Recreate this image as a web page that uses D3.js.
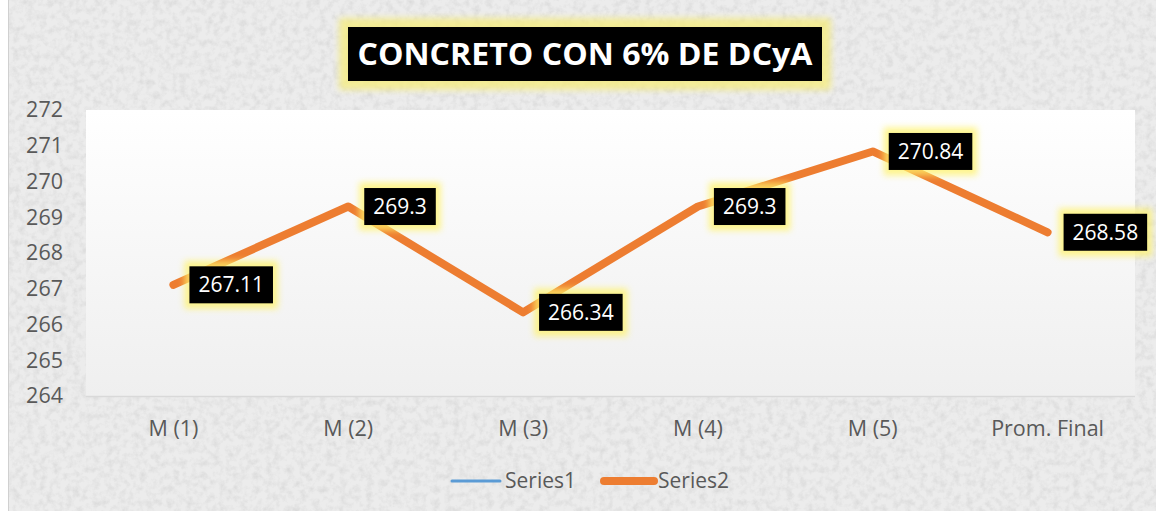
<!DOCTYPE html>
<meta charset="utf-8">
<script src="https://d3js.org/d3.v7.min.js"></script>
<style>
  body { margin: 0; }
  text { font-family: "Open Sans", "DejaVu Sans", sans-serif; }
</style>
<div id="chart"></div>
<script>

// data
var categories = ["M (1)", "M (2)", "M (3)", "M (4)", "M (5)", "Prom. Final"];
var series2 = [267.11, 269.3, 266.34, 269.3, 270.84, 268.58];
var series2Labels = ["267.11", "269.3", "266.34", "269.3", "270.84", "268.58"];
var yTicks = [264, 265, 266, 267, 268, 269, 270, 271, 272];
var legendNames = ["Series1", "Series2"];

var W = 1156, H = 511;
var margin = {top: 110, right: 21, bottom: 115, left: 86},
    width = W - margin.left - margin.right,
    height = H - margin.top - margin.bottom;

var svg = d3.select("#chart").append("svg")
    .attr("width", W)
    .attr("height", H);

var defs = svg.append("defs");

// granite-like background
var f = defs.append("filter").attr("id", "granite")
    .attr("x", 0).attr("y", 0).attr("width", "100%").attr("height", "100%");
f.append("feTurbulence").attr("type", "fractalNoise")
    .attr("baseFrequency", 0.15).attr("numOctaves", 4).attr("seed", 7);
f.append("feColorMatrix").attr("type", "matrix")
    .attr("values", "0 0 0 0 0.6  0 0 0 0 0.6  0 0 0 0 0.6  0 0 0 -1.0 0.6");
f.append("feComposite").attr("in2", "SourceGraphic").attr("operator", "in");

var glow = defs.append("filter").attr("id", "glow")
    .attr("x", "-30%").attr("y", "-60%").attr("width", "160%").attr("height", "220%");
glow.append("feGaussianBlur").attr("stdDeviation", 3);

var grad = defs.append("linearGradient").attr("id", "plotbg")
    .attr("x1", 0).attr("y1", 0).attr("x2", 0).attr("y2", 1);
grad.append("stop").attr("offset", "0%").attr("stop-color", "#ffffff");
grad.append("stop").attr("offset", "100%").attr("stop-color", "#efefef");

svg.append("rect").attr("x", 0).attr("y", 0).attr("width", W).attr("height", H)
    .attr("fill", "#ffffff");
svg.append("rect").attr("x", 8).attr("y", 0).attr("width", W - 8).attr("height", H)
    .attr("fill", "#ececec");
svg.append("rect").attr("x", 8).attr("y", 0).attr("width", W - 8).attr("height", H)
    .attr("fill", "#ececec").attr("filter", "url(#granite)");
svg.append("line").attr("x1", 8.5).attr("x2", 8.5).attr("y1", 0).attr("y2", H)
    .attr("stroke", "#d0d0d0");

var g = svg.append("g")
    .attr("transform", "translate(" + margin.left + "," + margin.top + ")");

var x = d3.scaleBand().domain(categories).range([0, width]);
var y = d3.scaleLinear().domain([264, 272]).range([height, 0]);

// plot area
g.append("rect").attr("width", width).attr("height", height).attr("fill", "url(#plotbg)");
g.append("line").attr("x1", 0).attr("x2", width).attr("y1", height + 0.5).attr("y2", height + 0.5)
    .attr("stroke", "#d9d9d9").attr("stroke-width", 1.5);

// y axis
var yAxis = g.append("g").call(d3.axisLeft(y).tickValues(yTicks).tickSize(0).tickPadding(23));
yAxis.select(".domain").remove();
yAxis.selectAll("text").attr("fill", "#595959").style("font-size", "21.5px")
    .style("font-family", "'Open Sans', sans-serif");

// x axis
var xAxis = g.append("g").attr("transform", "translate(0," + height + ")")
    .call(d3.axisBottom(x).tickSize(0).tickPadding(25));
xAxis.select(".domain").remove();
xAxis.selectAll("text").attr("fill", "#595959").style("font-size", "21.5px")
    .style("font-family", "'Open Sans', sans-serif");

// line
var line = d3.line()
    .x(function(d, i) { return x(categories[i]) + x.bandwidth() / 2; })
    .y(function(d) { return y(d); });
g.append("path").datum(series2)
    .attr("fill", "none").attr("stroke", "#ED7D31").attr("stroke-width", 8)
    .attr("stroke-linecap", "round").attr("stroke-linejoin", "round")
    .attr("d", line);

// data labels
series2.forEach(function(v, i) {
  var cx = x(categories[i]) + x.bandwidth() / 2 + 16;
  var cy = y(v);
  var lg = g.append("g").attr("transform", "translate(" + cx + "," + cy + ")");
  var t = lg.append("text").attr("x", 9).attr("y", 0).attr("dy", "0.35em")
      .attr("fill", "#fff").style("font-size", "21px").text(series2Labels[i]);
  var bw = t.node().getComputedTextLength() + 18;
  lg.insert("rect", "text").attr("x", -5).attr("y", -24).attr("width", bw + 10).attr("height", 48)
      .attr("fill", "#fff36a").attr("opacity", 0.75).attr("filter", "url(#glow)");
  lg.insert("rect", "text").attr("x", 0).attr("y", -18.5).attr("width", bw).attr("height", 37)
      .attr("fill", "#000");
});

// title
var tg = svg.append("g").attr("transform", "translate(585,54)");
tg.append("rect").attr("x", -246).attr("y", -36).attr("width", 492).attr("height", 72)
    .attr("fill", "#f6ec7a").attr("opacity", 0.75).attr("filter", "url(#glow)");
tg.append("rect").attr("x", -237).attr("y", -27).attr("width", 474).attr("height", 54)
    .attr("fill", "#000");
tg.append("text").attr("text-anchor", "middle").attr("dy", "0.36em")
    .attr("fill", "#fff").style("font-size", "31px").style("font-weight", "bold")
    .attr("textLength", 455).attr("lengthAdjust", "spacingAndGlyphs")
    .text("CONCRETO CON 6% DE DCyA");

// legend
var legend = svg.append("g").attr("transform", "translate(0,481)");
legend.append("line").attr("x1", 452).attr("x2", 500).attr("y1", 0).attr("y2", 0)
    .attr("stroke", "#5B9BD5").attr("stroke-width", 3).attr("stroke-linecap", "round");
legend.append("text").attr("x", 505).attr("dy", "0.35em").attr("fill", "#595959")
    .style("font-size", "21px").text(legendNames[0]);
legend.append("line").attr("x1", 604).attr("x2", 654).attr("y1", 0).attr("y2", 0)
    .attr("stroke", "#ED7D31").attr("stroke-width", 8).attr("stroke-linecap", "round");
legend.append("text").attr("x", 658).attr("dy", "0.35em").attr("fill", "#595959")
    .style("font-size", "21px").text(legendNames[1]);

</script>
